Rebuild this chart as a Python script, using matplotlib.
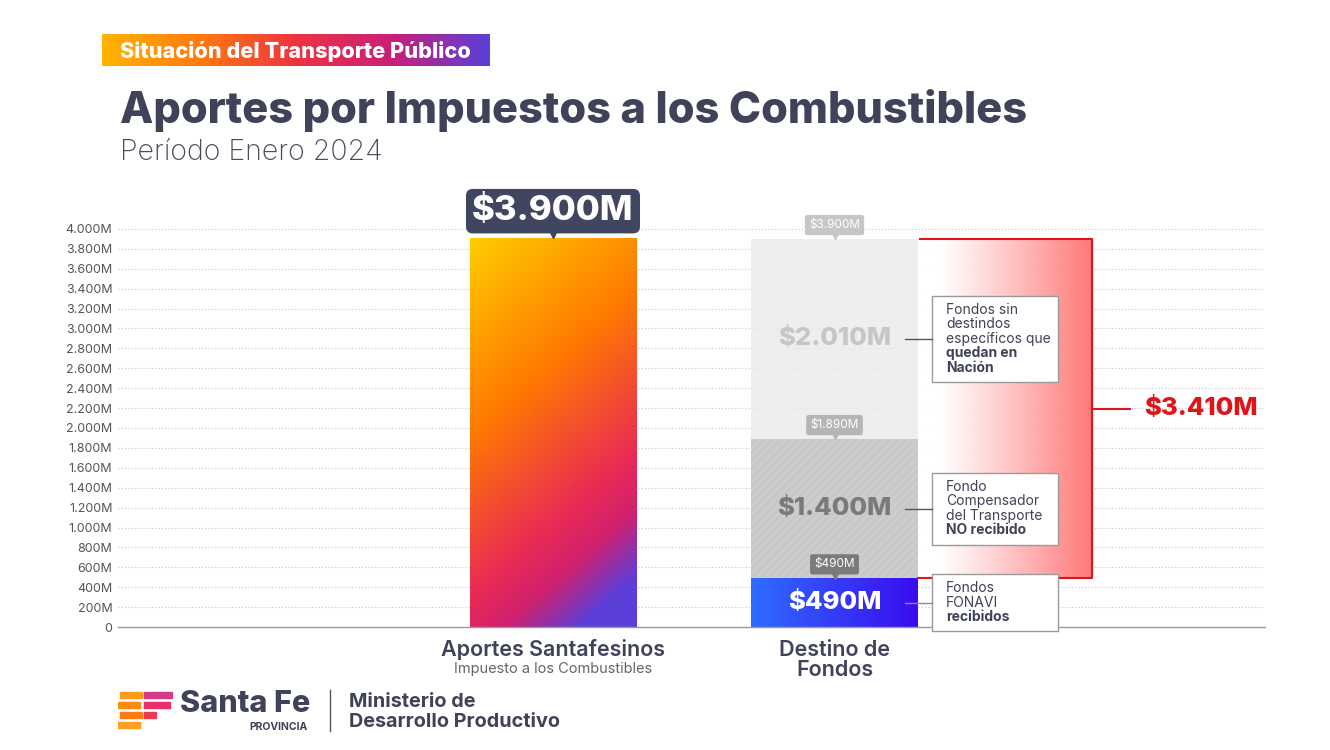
import matplotlib.pyplot as plt
import numpy as np
from matplotlib.colors import LinearSegmentedColormap
from matplotlib.patches import Rectangle
from matplotlib import transforms

plt.rcParams["font.family"] = ["Inter", "DejaVu Sans"]
plt.rcParams["hatch.linewidth"] = 0.7

# data
categories = ["Aportes Santafesinos", "Destino de\nFondos"]
category_notes = ["Impuesto a los Combustibles", ""]
aportes_total = 3900
destino_values = [490, 1400, 2010]
destino_names = ["fonavi", "compensador", "nacion"]
no_recibido = 3410
callout_lines = [
    [("Fondos", "normal"), ("FONAVI", "normal"), ("recibidos", "bold")],
    [("Fondo", "normal"), ("Compensador", "normal"), ("del Transporte", "normal"), ("NO recibido", "bold")],
    [("Fondos sin", "normal"), ("destindos", "normal"), ("específicos que", "normal"),
     ("quedan en", "bold"), ("Nación", "bold")],
]
y_ticks = list(range(0, 4001, 200))


def fmt(v):
    return f"{v:,}".replace(",", ".")


DARK = "#3f4259"

fig = plt.figure(figsize=(13.3, 7.5), dpi=100)
W, H = 1330, 750
ax = fig.add_axes([118 / W, 1 - 627 / H, 1147 / W, (627 - 189.2) / H])
ax.set_xlim(-1.545, 2.529)
ax.set_ylim(0, 4400)
for s in ["top", "right", "left"]:
    ax.spines[s].set_visible(False)
ax.spines["bottom"].set_color("#9a9a9a")
ax.spines["bottom"].set_linewidth(1.0)
ax.set_yticks(y_ticks)
ax.set_yticklabels([fmt(v) + "M" if v else "0" for v in y_ticks], fontsize=9, color="#555555")
ax.tick_params(axis="y", length=0, pad=4)
ax.set_xticks([])
ax.yaxis.grid(True, linestyle=(0, (1, 2)), color="#c4c4c4", linewidth=0.8)
ax.set_axisbelow(True)

bw = 0.59
x0, x1 = 0, 1

# bar 1: diagonal gradient
bar1_cmap = LinearSegmentedColormap.from_list(
    "b1", [(0, "#ffcc00"), (0.4, "#ff7a00"), (0.74, "#ea2a55"), (0.86, "#d0216e"), (1.0, "#5b3fd8")])
yy, xx = np.mgrid[0:1:300j, 0:1:120j]
t = np.clip(0.8 * yy + 0.3 * xx, 0, 1)
ax.imshow(bar1_cmap(t), extent=(x0 - bw / 2, x0 + bw / 2, 0, aportes_total),
          aspect="auto", zorder=2, interpolation="bilinear")

# bar 2: stacked
cum = np.cumsum([0] + destino_values)
blue_cmap = LinearSegmentedColormap.from_list("bl", ["#2f6cff", "#3a0cee"])
ax.imshow(blue_cmap(np.tile(np.linspace(0, 1, 120), (10, 1))),
          extent=(x1 - bw / 2, x1 + bw / 2, cum[0], cum[1]), aspect="auto", zorder=2)
ax.bar(x1, destino_values[1], bottom=cum[1], width=bw, color="#c9c9c9",
       edgecolor="#d4d4d4", linewidth=0, hatch="////", zorder=2)
ax.bar(x1, destino_values[2], bottom=cum[2], width=bw, color="#ebebeb", alpha=0.85,
       linewidth=0, zorder=2)

# red gradient zone
rx0, rx1 = x1 + bw / 2, 1.915
red = np.zeros((10, 200, 4))
ramp = np.clip((np.linspace(0, 1, 200) - 0.12) / 0.88, 0, 1) ** 1.1
red[..., 0] = 1.0
red[..., 1] = 1 - 0.58 * ramp
red[..., 2] = 1 - 0.58 * ramp
red[..., 3] = 0.92
ax.imshow(red, extent=(rx0, rx1, cum[1], cum[3]), aspect="auto", zorder=1.5)
RED = "#e0141b"
ax.plot([rx0 + 0.01, rx1, rx1, rx0], [cum[3], cum[3], cum[1], cum[1]], color=RED, lw=1.5, zorder=3)
ymid = (cum[1] + cum[3]) / 2
ax.plot([rx1, 2.05], [ymid, ymid], color=RED, lw=1.5, zorder=3)
ax.text(2.10, ymid, "$" + fmt(no_recibido) + "M", color=RED, fontsize=18.5, fontweight="heavy",
        va="center", ha="left")
ax.set_xlim(-1.545, 2.529)
ax.set_ylim(0, 4400)

# segment value labels
seg_colors = ["white", "#7a7a7a", "#c6c6c6"]
for i, v in enumerate(destino_values):
    mid = cum[i] + v / 2
    ax.text(x1, mid, "$" + fmt(v) + "M", ha="center", va="center", fontsize=18.5,
            fontweight="heavy", color=seg_colors[i], zorder=4)

# tooltip labels
def tooltip(x, y, label, bg, fg, size, dy, pad, tri):
    ax.annotate(label, xy=(x, y), xytext=(0, dy), textcoords="offset points",
                ha="center", va="center", fontsize=size, color=fg, zorder=6,
                fontweight="heavy" if size > 12 else "normal",
                bbox=dict(boxstyle=f"round,pad={pad},rounding_size=0.2", fc=bg, ec="none"),
                annotation_clip=False)
    tr = transforms.offset_copy(ax.transData, fig=fig, x=0, y=tri, units="points")
    ax.plot([x], [y], marker="v", markersize=6, color=bg, transform=tr, zorder=6, clip_on=False)


tooltip(x0, aportes_total, "$" + fmt(aportes_total) + "M", "#404560", "white", 25, 20, 0.18, 3.5)
tip_bgs = ["#7b7b7b", "#b5b5b5", "#c6c6c6"]
for i in range(3):
    tooltip(x1, cum[i + 1], "$" + fmt(int(cum[i + 1])) + "M", tip_bgs[i], "white", 8.5, 10, 0.35, 2.5)

# callouts
bx0, bx1 = 1.346, 1.794
line_h = 146
for i, lines in enumerate(callout_lines):
    mid = cum[i] + destino_values[i] / 2
    hgt = len(lines) * line_h + 140
    ax.add_patch(Rectangle((bx0, mid - hgt / 2), bx1 - bx0, hgt, fc="white", ec="#9a9a9a",
                           lw=1.0, zorder=5, clip_on=False))
    ax.plot([1.25, bx0], [mid, mid], color="#555555" if i else "#8a80c8", lw=1.0, zorder=5)
    top = mid + (len(lines) - 1) * line_h / 2
    for j, (txt, wt) in enumerate(lines):
        ax.text(bx0 + 0.05, top - j * line_h, txt, fontsize=10, fontweight=wt, color=DARK,
                va="center", ha="left", zorder=6)

# category labels
ax.annotate(categories[0], xy=(x0, 0), xycoords=("data", "axes fraction"), xytext=(0, -16),
            textcoords="offset points", ha="center", va="center", fontsize=15.5,
            fontweight="semibold", color=DARK)
ax.annotate(category_notes[0], xy=(x0, 0), xycoords=("data", "axes fraction"), xytext=(0, -30),
            textcoords="offset points", ha="center", va="center", fontsize=10.5, color="#666666")
ax.annotate(categories[1], xy=(x1, 0), xycoords=("data", "axes fraction"), xytext=(0, -23.5),
            textcoords="offset points", ha="center", va="center", fontsize=15.5,
            fontweight="semibold", color=DARK, linespacing=1.0)

# header
tag_ax = fig.add_axes([102 / W, 1 - 66 / H, 388 / W, 32 / H])
tag_cmap = LinearSegmentedColormap.from_list(
    "tag", ["#ffb400", "#ff7a10", "#ee3340", "#c8207a", "#5b3fd8"])
tag_ax.imshow(np.tile(np.linspace(0, 1, 300), (5, 1)), cmap=tag_cmap, aspect="auto")
tag_ax.axis("off")
fig.text(120 / W, 1 - 51 / H, "Situación del Transporte Público", color="white",
         fontsize=15.7, fontweight="heavy", va="center")
fig.text(120 / W, 1 - 110 / H, "Aportes por Impuestos a los Combustibles", color=DARK,
         fontsize=31.2, fontweight="heavy", va="center")
fig.text(120 / W, 1 - 153 / H, "Período Enero 2024", color="#4a4c5e", fontsize=20.5,
         fontweight="light", va="center")

# footer logo
logo = fig.add_axes([118 / W, 1 - 732 / H, 56 / W, 44 / H])
logo.set_xlim(0, 56)
logo.set_ylim(0, 44)
logo.axis("off")
stripes = [(2, 34, 22, 6, "#ff9a1a"), (26, 34, 28, 6, "#d43a8a"),
           (0, 24, 22, 6, "#ff8a10"), (26, 24, 26, 6, "#e8306a"),
           (2, 14, 22, 6, "#ff7a10"), (26, 14, 12, 6, "#ee3a50"),
           (0, 4, 22, 6, "#ffa020")]
for sx, sy, sw, sh, sc in stripes:
    logo.add_patch(Rectangle((sx, sy), sw, sh, color=sc))
fig.text(180 / W, 1 - 704 / H, "Santa Fe", color=DARK, fontsize=22, fontweight="heavy", va="center")
fig.text(308 / W, 1 - 727 / H, "PROVINCIA", color=DARK, fontsize=7.5, fontweight="bold",
         va="center", ha="right")
fig.add_artist(plt.Line2D([330 / W, 330 / W], [1 - 690 / H, 1 - 731 / H], color="#555555", lw=1))
fig.text(349 / W, 1 - 702 / H, "Ministerio de", color=DARK, fontsize=14.3, fontweight="bold", va="center")
fig.text(349 / W, 1 - 722 / H, "Desarrollo Productivo", color=DARK, fontsize=14.3,
         fontweight="bold", va="center")

fig.savefig("out.png", dpi=100)
